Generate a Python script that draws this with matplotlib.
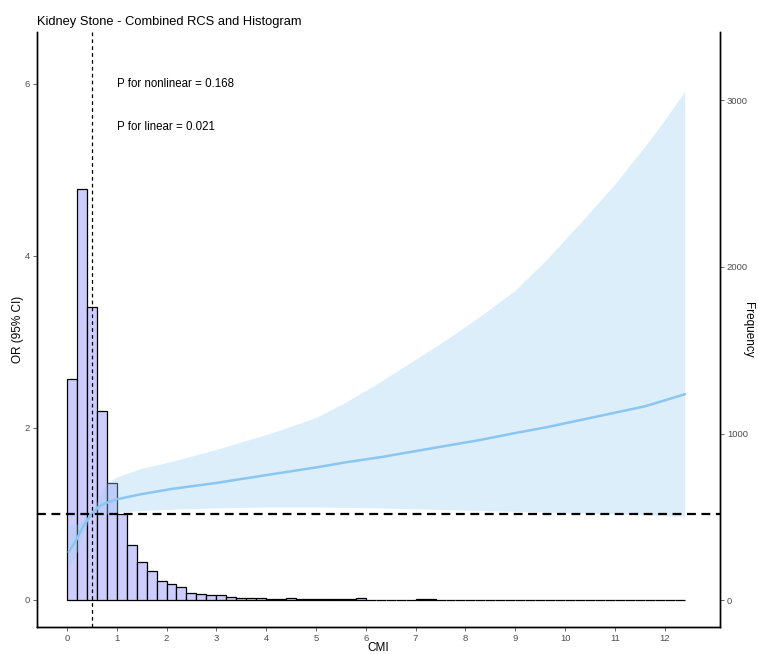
import matplotlib
matplotlib.use("Agg")
import matplotlib.pyplot as plt
import numpy as np

plt.rcParams["font.family"] = ["Liberation Sans", "DejaVu Sans"]

# Histogram of CMI (binwidth 0.2, starting at 0)
bin_width = 0.2
bin_start = np.round(np.arange(0, 12.4, bin_width), 1)
freq = [1326, 2467, 1758, 1137, 701, 517, 328, 230, 174, 116,
        96, 76, 44, 34, 32, 32, 16, 12, 14, 14,
        6, 6, 14, 6, 4, 4, 8, 4, 6, 10,
        3, 2, 2, 0, 3, 4, 4, 0, 2, 2,
        2, 2, 2, 2, 0, 0, 3, 0, 0, 0,
        0, 0, 0, 0, 0, 0, 3, 0, 0, 0,
        3, 1]

# RCS curve (OR with 95% CI)
cmi = [0.04, 0.2, 0.35, 0.5, 0.65, 0.8, 1.0, 1.5, 2.1, 3.0, 4.1, 5.0, 5.6,
       6.3, 6.9, 7.6, 8.3, 9.0, 9.65, 10.3, 10.95, 11.6, 12.0, 12.4]
or_est = [0.56, 0.71, 0.88, 1.0, 1.09, 1.13, 1.17, 1.23, 1.29, 1.36, 1.46, 1.54, 1.60,
          1.66, 1.72, 1.79, 1.86, 1.94, 2.01, 2.09, 2.17, 2.25, 2.32, 2.39]
or_upper = [0.87, 0.88, 0.95, 1.0, 1.2, 1.36, 1.43, 1.53, 1.61, 1.75, 1.94, 2.12, 2.30,
            2.54, 2.76, 3.02, 3.30, 3.60, 3.97, 4.38, 4.80, 5.27, 5.58, 5.91]
or_lower = [0.38, 0.55, 0.80, 1.0, 1.0, 1.0, 1.02, 1.04, 1.055, 1.07, 1.08, 1.08, 1.075,
            1.07, 1.06, 1.05, 1.04, 1.03, 1.02, 1.01, 1.0, 0.99, 0.98, 0.97]

ref_cmi = 0.5
p_nonlinear = "0.168"
p_linear = "0.021"

tick_grey = "#4d4d4d"

fig = plt.figure(figsize=(7.58, 6.54), dpi=100)
ax = fig.add_axes([0.0488, 0.0413, 0.9011, 0.9097])
ax2 = ax.twinx()
ax.set_zorder(ax2.get_zorder() + 1)
ax.patch.set_visible(False)

# histogram on the secondary (frequency) axis, behind the curve
ax2.bar(bin_start, freq, width=bin_width, align="edge",
        color="#ccccff", edgecolor="black", linewidth=0.9)
ax2.set_ylim(-162, 3411)
ax2.set_yticks([0, 1000, 2000, 3000])
ax2.set_ylabel("Frequency", rotation=-90, fontsize=8.5, va="center", ha="center")
ax2.yaxis.set_label_coords(1.041, 0.5)

# RCS curve
ax.fill_between(cmi, or_lower, or_upper, color="#9fd0f5", alpha=0.35, linewidth=0)
ax.plot(cmi, or_est, color="#8ac6f0", linewidth=1.8)
ax.axhline(1, color="black", linestyle=(0, (4, 2.5)), linewidth=1.6)
ax.axvline(ref_cmi, color="black", linestyle=(0, (3, 2.5)), linewidth=0.9)

ax.text(1.0, 6.0, "P for nonlinear = " + p_nonlinear, fontsize=8.3,
        ha="left", va="center")
ax.text(1.0, 5.5, "P for linear = " + p_linear, fontsize=8.3,
        ha="left", va="center")

ax.set_xlim(-0.6, 13.11)
ax.set_ylim(-0.314, 6.6)
ax.set_xticks(range(0, 13))
ax.set_yticks([0, 2, 4, 6])
ax.set_xlabel("CMI", fontsize=8.5, va="center")
ax.xaxis.set_label_coords(0.5, -0.035)
ax.set_ylabel("OR (95% CI)", fontsize=8.5, va="center", ha="center")
ax.yaxis.set_label_coords(-0.028, 0.5)
ax.set_title("Kidney Stone - Combined RCS and Histogram", loc="left",
             fontsize=9.3, pad=5)

for a in (ax, ax2):
    a.spines["top"].set_visible(False)
    for s in ("left", "right", "bottom"):
        a.spines[s].set_linewidth(1.0)
    a.tick_params(labelsize=6.8, colors=tick_grey, length=3, width=0.6, pad=2)

fig.savefig("out.png", dpi=100)
